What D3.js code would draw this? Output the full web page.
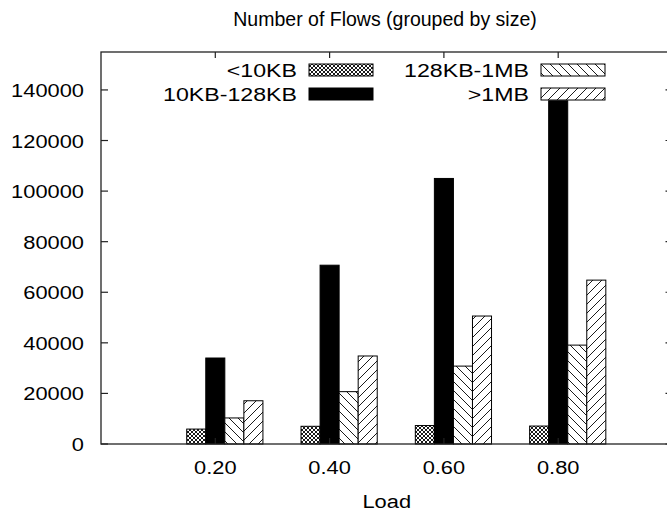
<!DOCTYPE html>
<html>
<head>
<meta charset="utf-8">
<script src="https://cdn.jsdelivr.net/npm/d3@7"></script>
<style>
  body { margin: 0; background: #fff; }
  text { font-family: "Liberation Sans", Arial, sans-serif; fill: #000; }
</style>
</head>
<body>
<svg></svg>
<script>
// values
let loads = [0.2, 0.4, 0.6, 0.8];
let loadLabels = ["0.20", "0.40", "0.60", "0.80"];
let seriesNames = ["<10KB", "10KB-128KB", "128KB-1MB", ">1MB"];
let flowsSmall = [5900, 7000, 7300, 7100];
let flowsMedium = [34000, 70700, 105000, 135700];
let flowsLarge = [10300, 20700, 30800, 39100];
let flowsHuge = [17100, 34800, 50600, 64800];
let yTicks = [0, 20000, 40000, 60000, 80000, 100000, 120000, 140000];

let width = 667;
let height = 515;
let plotLeft = 101, plotRight = 672.5, plotTop = 52, plotBottom = 444;

let series = [flowsSmall, flowsMedium, flowsLarge, flowsHuge];
let fills = ["url(#cross)", "#000", "url(#back)", "url(#fwd)"];

let svg = d3.select("svg")
            .attr("width", width)
            .attr("height", height);

// fill patterns
let defs = svg.append("defs");
function pattern(id, size, d) {
  let p = defs.append("pattern")
     .attr("id", id)
     .attr("patternUnits", "userSpaceOnUse")
     .attr("width", size)
     .attr("height", size);
  p.append("rect").attr("width", size).attr("height", size).attr("fill", "#fff");
  p.append("path").attr("d", d).attr("stroke", "#000").attr("stroke-width", 0.9).attr("fill", "none");
}
pattern("cross", 4, "M0,0L4,4M4,0L0,4");
pattern("back", 9, "M0,0L9,9M-4.5,4.5L4.5,13.5M4.5,-4.5L13.5,4.5");
pattern("fwd", 9, "M0,9L9,0M-4.5,4.5L4.5,-4.5M4.5,13.5L13.5,4.5");

let x = d3.scaleLinear().domain([0, 1]).range([plotLeft, plotRight]);
let y = d3.scaleLinear().domain([0, 155000]).range([plotBottom, plotTop]);
let barW = x(1 / 30) - x(0);

// text in the reference is a little wider than plain Arial
function label(g, px, py, str, size, anchor, stretch) {
  return g.append("text")
    .attr("transform", `translate(${px},${py}) scale(${stretch},1)`)
    .attr("text-anchor", anchor)
    .style("font-size", size + "px")
    .text(str);
}

// bars: black bar centred on the tick, others offset by one bar width
series.forEach(function(vals, s) {
  svg.append("g").selectAll("rect")
     .data(vals)
     .enter()
     .append("rect")
       .attr("x", (d, i) => x(loads[i]) + (s - 1.5) * barW)
       .attr("y", d => y(d))
       .attr("width", barW)
       .attr("height", d => y(0) - y(d))
       .attr("fill", fills[s])
       .attr("stroke", "#000")
       .attr("stroke-width", 1);
});

// frame
svg.append("rect")
   .attr("x", plotLeft).attr("y", plotTop)
   .attr("width", plotRight - plotLeft).attr("height", plotBottom - plotTop)
   .attr("fill", "none")
   .attr("stroke", "#222")
   .attr("stroke-width", 1.3);

// y ticks on both sides, pointing inward
let axis = svg.append("g").attr("stroke", "#222").attr("stroke-width", 1.2);
yTicks.forEach(function(t) {
  axis.append("line").attr("x1", plotLeft).attr("x2", plotLeft + 7).attr("y1", y(t)).attr("y2", y(t));
  axis.append("line").attr("x1", plotRight).attr("x2", plotRight - 7).attr("y1", y(t)).attr("y2", y(t));
  label(svg, 84, y(t) + 7, String(t), 19, "end", 1.15);
});

// x ticks: mirrored on top, labels below
loads.forEach(function(v, i) {
  axis.append("line").attr("x1", x(v)).attr("x2", x(v)).attr("y1", plotTop).attr("y2", plotTop + 6);
  axis.append("line").attr("x1", x(v)).attr("x2", x(v)).attr("y1", plotBottom).attr("y2", plotBottom - 6);
  label(svg, x(v), 474, loadLabels[i], 19, "middle", 1.15);
});

// axis title and chart title
label(svg, (plotLeft + plotRight) / 2, 508, "Load", 19, "middle", 1.15);
label(svg, 385, 26, "Number of Flows (grouped by size)", 19.5, "middle", 1.0);

// legend, two columns
let legendPos = [[309, 70], [309, 94], [541, 70], [541, 94]];
seriesNames.forEach(function(name, s) {
  let p = legendPos[s];
  svg.append("rect")
     .attr("x", p[0]).attr("y", p[1] - 6)
     .attr("width", 64).attr("height", 12)
     .attr("fill", fills[s])
     .attr("stroke", "#000")
     .attr("stroke-width", 1);
  label(svg, p[0] - 12, p[1] + 7, name, 19, "end", 1.22);
});
</script>
</body>
</html>
